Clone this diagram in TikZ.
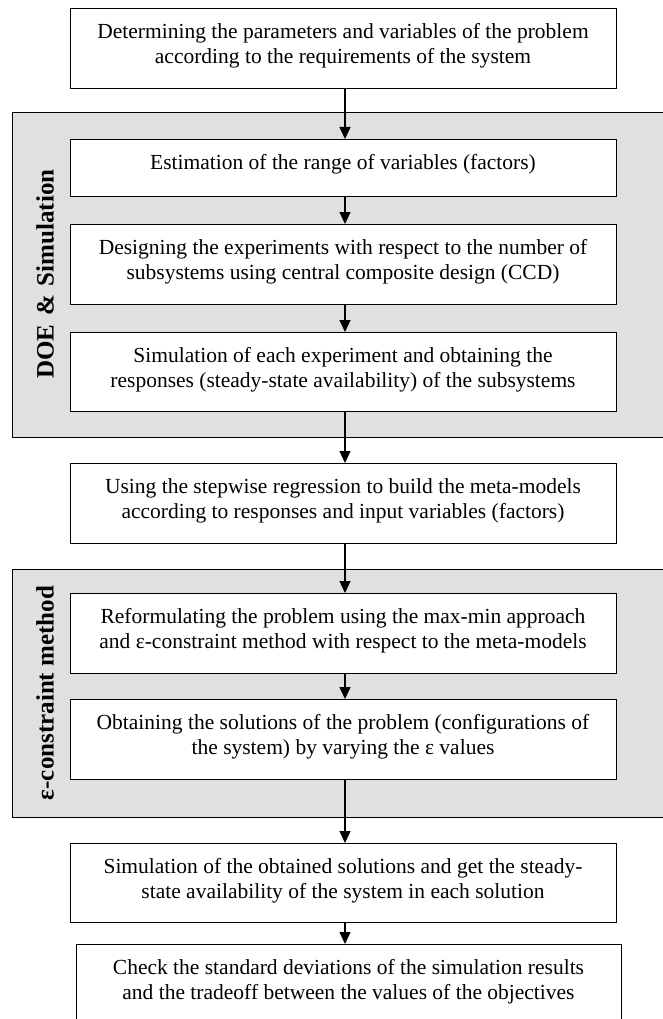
\documentclass[tikz,border=0pt]{standalone}
\usepackage{fontspec}
\setmainfont{Liberation Serif}
\usetikzlibrary{arrows.meta}
\definecolor{panelgray}{RGB}{224,224,224}
\newcommand{\flowtext}[3]{\parbox[b][#1pt][t]{#2pt}{\centering\fontsize{21.5}{25}\selectfont\vspace*{12.5pt}\strut #3}}
\tikzset{
  box/.style={draw=black, line width=1pt, fill=white, inner sep=0pt, anchor=north},
  panel/.style={draw=black, line width=1pt, fill=panelgray},
  sidelabel/.style={rotate=90, font=\bfseries\fontsize{25}{30}\selectfont, inner sep=0pt},
  flowarrow/.style={draw=black, line width=1.2pt, -{Triangle[length=12pt,width=11pt]}}
}
\begin{document}
\begin{tikzpicture}[x=1pt,y=1pt]
\useasboundingbox (0,0) rectangle (663,-1019);
\clip (0,0) rectangle (663,-1019);
% panels
\draw[panel] (12,-113) rectangle (690,-437);
\draw[panel] (12,-569) rectangle (690,-817);
\node[sidelabel] (l1) at (45,-274) {DOE\hspace{0.1em} \&\hspace{0.1em} Simulation};
\node[sidelabel] (l2) at (45,-693) {ε-constraint method};
% boxes
\node[box] (b1) at (343,-8) {\flowtext{80}{546}{Determining the parameters and variables of the problem\\according to the requirements of the system}};
\node[box] (b2) at (343,-139) {\flowtext{57}{546}{Estimation of the range of variables (factors)}};
\node[box] (b3) at (343,-224) {\flowtext{80}{546}{Designing the experiments with respect to the number of\\subsystems using central composite design (CCD)}};
\node[box] (b4) at (343,-332) {\flowtext{79}{546}{Simulation of each experiment and obtaining the\\responses (steady-state availability) of the subsystems}};
\node[box] (b5) at (343,-463) {\flowtext{80}{546}{Using the stepwise regression to build the meta-models\\according to responses and input variables (factors)}};
\node[box] (b6) at (343,-593) {\flowtext{80}{546}{Reformulating the problem using the max-min approach\\and ε-constraint method with respect to the meta-models}};
\node[box] (b7) at (343,-699) {\flowtext{80}{546}{Obtaining the solutions of the problem (configurations of\\the system) by varying the ε values}};
\node[box] (b8) at (343,-843) {\flowtext{79}{546}{Simulation of the obtained solutions and get the steady-\\state availability of the system in each solution}};
\node[box] (b9) at (348.5,-944) {\flowtext{92}{545}{Check the standard deviations of the simulation results\\and the tradeoff between the values of the objectives}};
% arrows
\coordinate (ax) at (345,0);
\draw[flowarrow] (b1.south -| ax) -- (b2.north -| ax);
\draw[flowarrow] (b2.south -| ax) -- (b3.north -| ax);
\draw[flowarrow] (b3.south -| ax) -- (b4.north -| ax);
\draw[flowarrow] (b4.south -| ax) -- (b5.north -| ax);
\draw[flowarrow] (b5.south -| ax) -- (b6.north -| ax);
\draw[flowarrow] (b6.south -| ax) -- (b7.north -| ax);
\draw[flowarrow] (b7.south -| ax) -- (b8.north -| ax);
\draw[flowarrow] (b8.south -| ax) -- (b9.north -| ax);
\end{tikzpicture}
\end{document}
